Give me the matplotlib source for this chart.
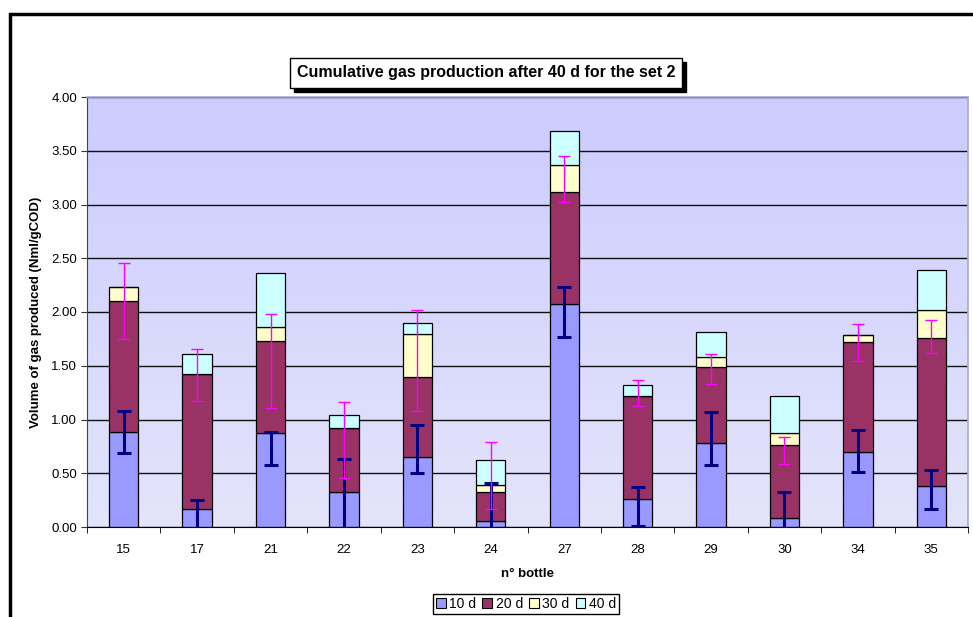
import numpy as np
import matplotlib
matplotlib.use("Agg")
import matplotlib.pyplot as plt
from matplotlib.colors import LinearSegmentedColormap
from matplotlib.patches import Rectangle, Patch

plt.rcParams['font.family'] = ['Liberation Sans', 'DejaVu Sans']

bottles = ['15', '17', '21', '22', '23', '24', '27', '28', '29', '30', '34', '35']
series = ['10 d', '20 d', '30 d', '40 d']
# height of each stacked segment (Nml/gCOD)
d10 = [0.88, 0.17, 0.87, 0.33, 0.65, 0.06, 2.07, 0.26, 0.78, 0.08, 0.70, 0.38]
d20 = [1.22, 1.25, 0.86, 0.59, 0.75, 0.27, 1.05, 0.96, 0.71, 0.68, 1.02, 1.38]
d30 = [0.13, 0.00, 0.13, 0.00, 0.40, 0.06, 0.25, 0.00, 0.09, 0.11, 0.07, 0.26]
d40 = [0.00, 0.19, 0.50, 0.12, 0.10, 0.23, 0.31, 0.10, 0.23, 0.35, 0.00, 0.37]
# error bar ends
blue_lo = [0.69, -0.08, 0.58, -0.10, 0.50, -0.20, 1.77, 0.01, 0.58, -0.15, 0.51, 0.17]
blue_hi = [1.08, 0.25, 0.88, 0.63, 0.95, 0.41, 2.23, 0.37, 1.07, 0.33, 0.90, 0.53]
mag_lo = [1.75, 1.17, 1.11, 0.46, 1.08, 0.17, 3.02, 1.13, 1.33, 0.59, 1.54, 1.62]
mag_hi = [2.46, 1.66, 1.98, 1.16, 2.02, 0.79, 3.45, 1.37, 1.61, 0.84, 1.89, 1.93]

colors = ['#9999FF', '#993366', '#FFFFCC', '#CCFFFF']

fig = plt.figure(figsize=(9.73, 6.17), dpi=100)
ax = fig.add_axes([87/973, 1 - 527/617, (968 - 87)/973, (527 - 97)/617])

x = np.arange(len(bottles))
ax.set_xlim(-0.5, len(bottles) - 0.5)
ax.set_ylim(0, 4)

# plot area gradient
cmap = LinearSegmentedColormap.from_list('bg', ['#E4E4FB', '#CCCCFF'])
ax.imshow(np.linspace(0, 1, 256)[:, None], extent=[-0.5, len(bottles) - 0.5, 0, 4],
          origin='lower', aspect='auto', cmap=cmap, zorder=0)

ax.set_axisbelow(True)
ax.yaxis.grid(True, color='#111111', lw=1.0)

bottom = np.zeros(len(bottles))
for vals, c, lab in zip([d10, d20, d30, d40], colors, series):
    v = np.array(vals)
    ax.bar(x, v, 0.4, bottom=bottom, color=c, edgecolor='black', lw=0.9, label=lab, zorder=2)
    bottom += v

blo, bhi = np.array(blue_lo), np.array(blue_hi)
ax.errorbar(x, (blo + bhi) / 2, yerr=(bhi - blo) / 2, fmt='none', ecolor='#000080',
            elinewidth=2.2, capsize=5, capthick=2.2, zorder=3)
mlo, mhi = np.array(mag_lo), np.array(mag_hi)
ax.errorbar(x, (mlo + mhi) / 2, yerr=(mhi - mlo) / 2, fmt='none', ecolor='#FF00FF',
            elinewidth=1.0, capsize=4.5, capthick=1.0, zorder=4)

ax.set_yticks(np.arange(0, 4.01, 0.5))
ax.set_yticklabels(['%.2f' % t for t in np.arange(0, 4.01, 0.5)], fontsize=9.5)
ax.set_xticks(x)
ax.set_xticklabels(bottles, fontsize=9.5)
ax.set_xticks(np.arange(-0.5, len(bottles)), minor=True)
ax.tick_params(axis='x', which='major', length=0, pad=12)
ax.tick_params(axis='x', which='minor', length=4, direction='out', color='black')
ax.tick_params(axis='y', length=4, direction='out', color='#333333', pad=3)

for s in ['top', 'right']:
    ax.spines[s].set_color('#A8A8D4')
    ax.spines[s].set_linewidth(1.2)
ax.spines['left'].set_color('#444444')
ax.spines['bottom'].set_color('black')

ax.set_ylabel('Volume of gas produced (Nml/gCOD)', fontsize=9.5, fontweight='bold', labelpad=7)
ax.set_xlabel('n° bottle', fontsize=9.5, fontweight='bold', labelpad=9)

handles = [Patch(facecolor=c, edgecolor='black', lw=0.8) for c in colors]
fig.legend(handles, series, loc='center', bbox_to_anchor=(526/973, 1 - 604/617), ncol=4,
           fontsize=10, frameon=True, fancybox=False, edgecolor='black', framealpha=1,
           handlelength=0.7, handleheight=0.7, handletextpad=0.25, columnspacing=0.45,
           borderpad=0.2, borderaxespad=0)

# title box with drop shadow
title = 'Cumulative gas production after 40 d for the set 2'
t = fig.text(486/973, 1 - 73/617, title, ha='center', va='center', fontsize=11.5,
             fontweight='bold', zorder=6,
             bbox=dict(boxstyle='square,pad=0.45', facecolor='white', edgecolor='black', lw=1))
fig.canvas.draw()
bb = t.get_bbox_patch().get_window_extent()
fig.add_artist(Rectangle(((bb.x0 + 4) / 973, (bb.y0 - 4) / 617), bb.width / 973, bb.height / 617,
                         transform=fig.transFigure, facecolor='black', edgecolor='black', zorder=5))

# outer chart frame (only left and top visible)
fig.add_artist(Rectangle((10/973, -0.2), 1.2, 1.2 - 14/617, transform=fig.transFigure,
                         fill=False, edgecolor='black', lw=2.5, clip_on=False))

fig.savefig('out.png', dpi=100)
